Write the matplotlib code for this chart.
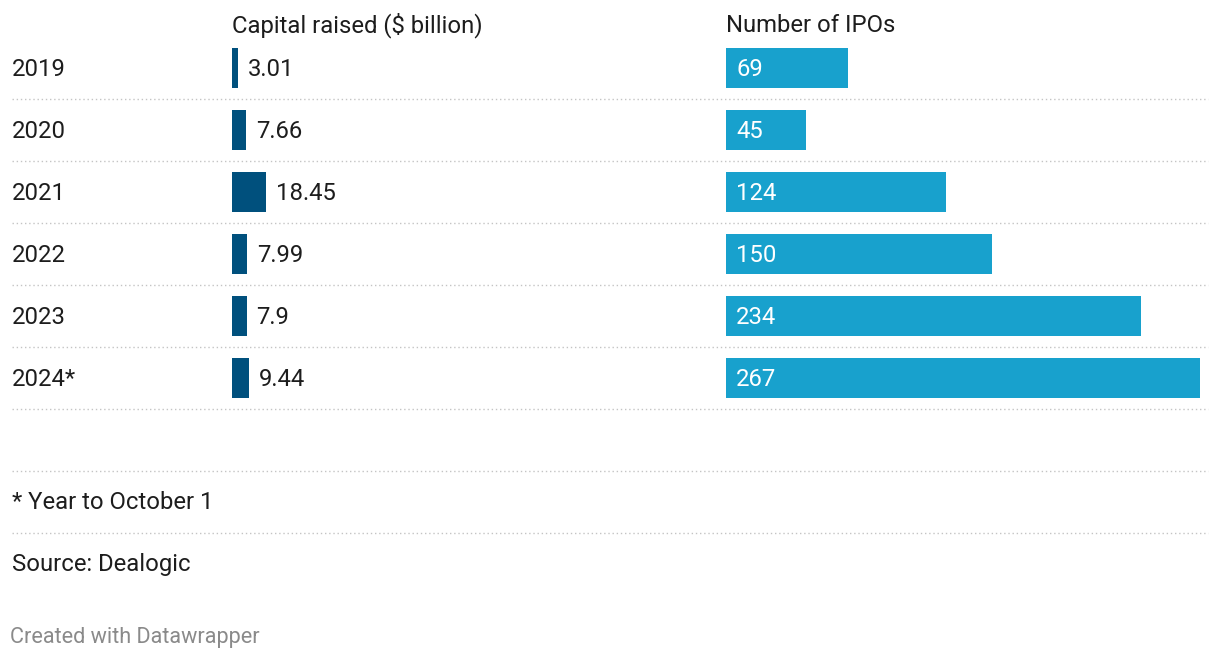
import matplotlib
matplotlib.use("Agg")
import matplotlib.pyplot as plt

plt.rcParams['font.family'] = ['Roboto', 'DejaVu Sans']

years = ["2019", "2020", "2021", "2022", "2023", "2024*"]
capital = [3.01, 7.66, 18.45, 7.99, 7.9, 9.44]
capital_labels = ["3.01", "7.66", "18.45", "7.99", "7.9", "9.44"]
ipos = [69, 45, 124, 150, 234, 267]

W, H = 1220, 660
fig = plt.figure(figsize=(W / 100, H / 100), dpi=100)

# base layer in pixel coordinates for text and rules
base = fig.add_axes([0, 0, 1, 1])
base.set_xlim(0, W)
base.set_ylim(H, 0)
base.axis('off')

txt = '#1d1d1d'
fs = 17.2
row_h = 62
top = 37
dy = 1.5  # small nudge so text sits like the original

for i, y in enumerate(years):
    yc = top + row_h * (i + 0.5)
    base.text(12, yc + dy, y, fontsize=fs, color=txt, va='center', ha='left')
    base.plot([12, 1208], [top + row_h * (i + 1)] * 2, color='#c4c4c4',
              lw=1, ls=(0, (1, 2)))

base.text(232, 24 + dy, "Capital raised ($ billion)", fontsize=fs, color=txt, va='center')
base.text(726, 24 + dy, "Number of IPOs", fontsize=fs, color=txt, va='center')

for yl in [471, 533]:
    base.plot([12, 1208], [yl, yl], color='#c4c4c4', lw=1, ls=(0, (1, 2)))
base.text(12, 501 + dy, "* Year to October 1", fontsize=fs, color=txt, va='center')
base.text(12, 563 + dy, "Source: Dealogic", fontsize=fs, color=txt, va='center')
base.text(10, 636 + dy, "Created with Datawrapper", fontsize=15.6, color='#8a8a8a', va='center')

# bar panels
ax_y0 = 1 - (top + row_h * 6) / H
ax_h = row_h * 6 / H
pos = list(range(len(years)))

ax1 = fig.add_axes([232 / W, ax_y0, 468 / W, ax_h])
ax1.barh(pos, capital, height=40 / row_h, color='#00507d')
ax1.set_xlim(0, 468 / 1.84)
ax1.set_ylim(len(years) - 0.5, -0.5)
ax1.axis('off')
for p, v, lab in zip(pos, capital, capital_labels):
    ax1.annotate(lab, (v, p), xytext=(10, -dy), textcoords='offset pixels',
                 fontsize=fs, color=txt, va='center', ha='left')

ax2 = fig.add_axes([726 / W, ax_y0, 482 / W, ax_h])
ax2.barh(pos, ipos, height=40 / row_h, color='#18a1cd')
ax2.set_xlim(0, 267 * 482 / 474)
ax2.set_ylim(len(years) - 0.5, -0.5)
ax2.axis('off')
for p, v in zip(pos, ipos):
    ax2.annotate(str(v), (0, p), xytext=(10, -dy), textcoords='offset pixels',
                 fontsize=fs, color='white', va='center', ha='left')

fig.savefig("out.png", dpi=100)
